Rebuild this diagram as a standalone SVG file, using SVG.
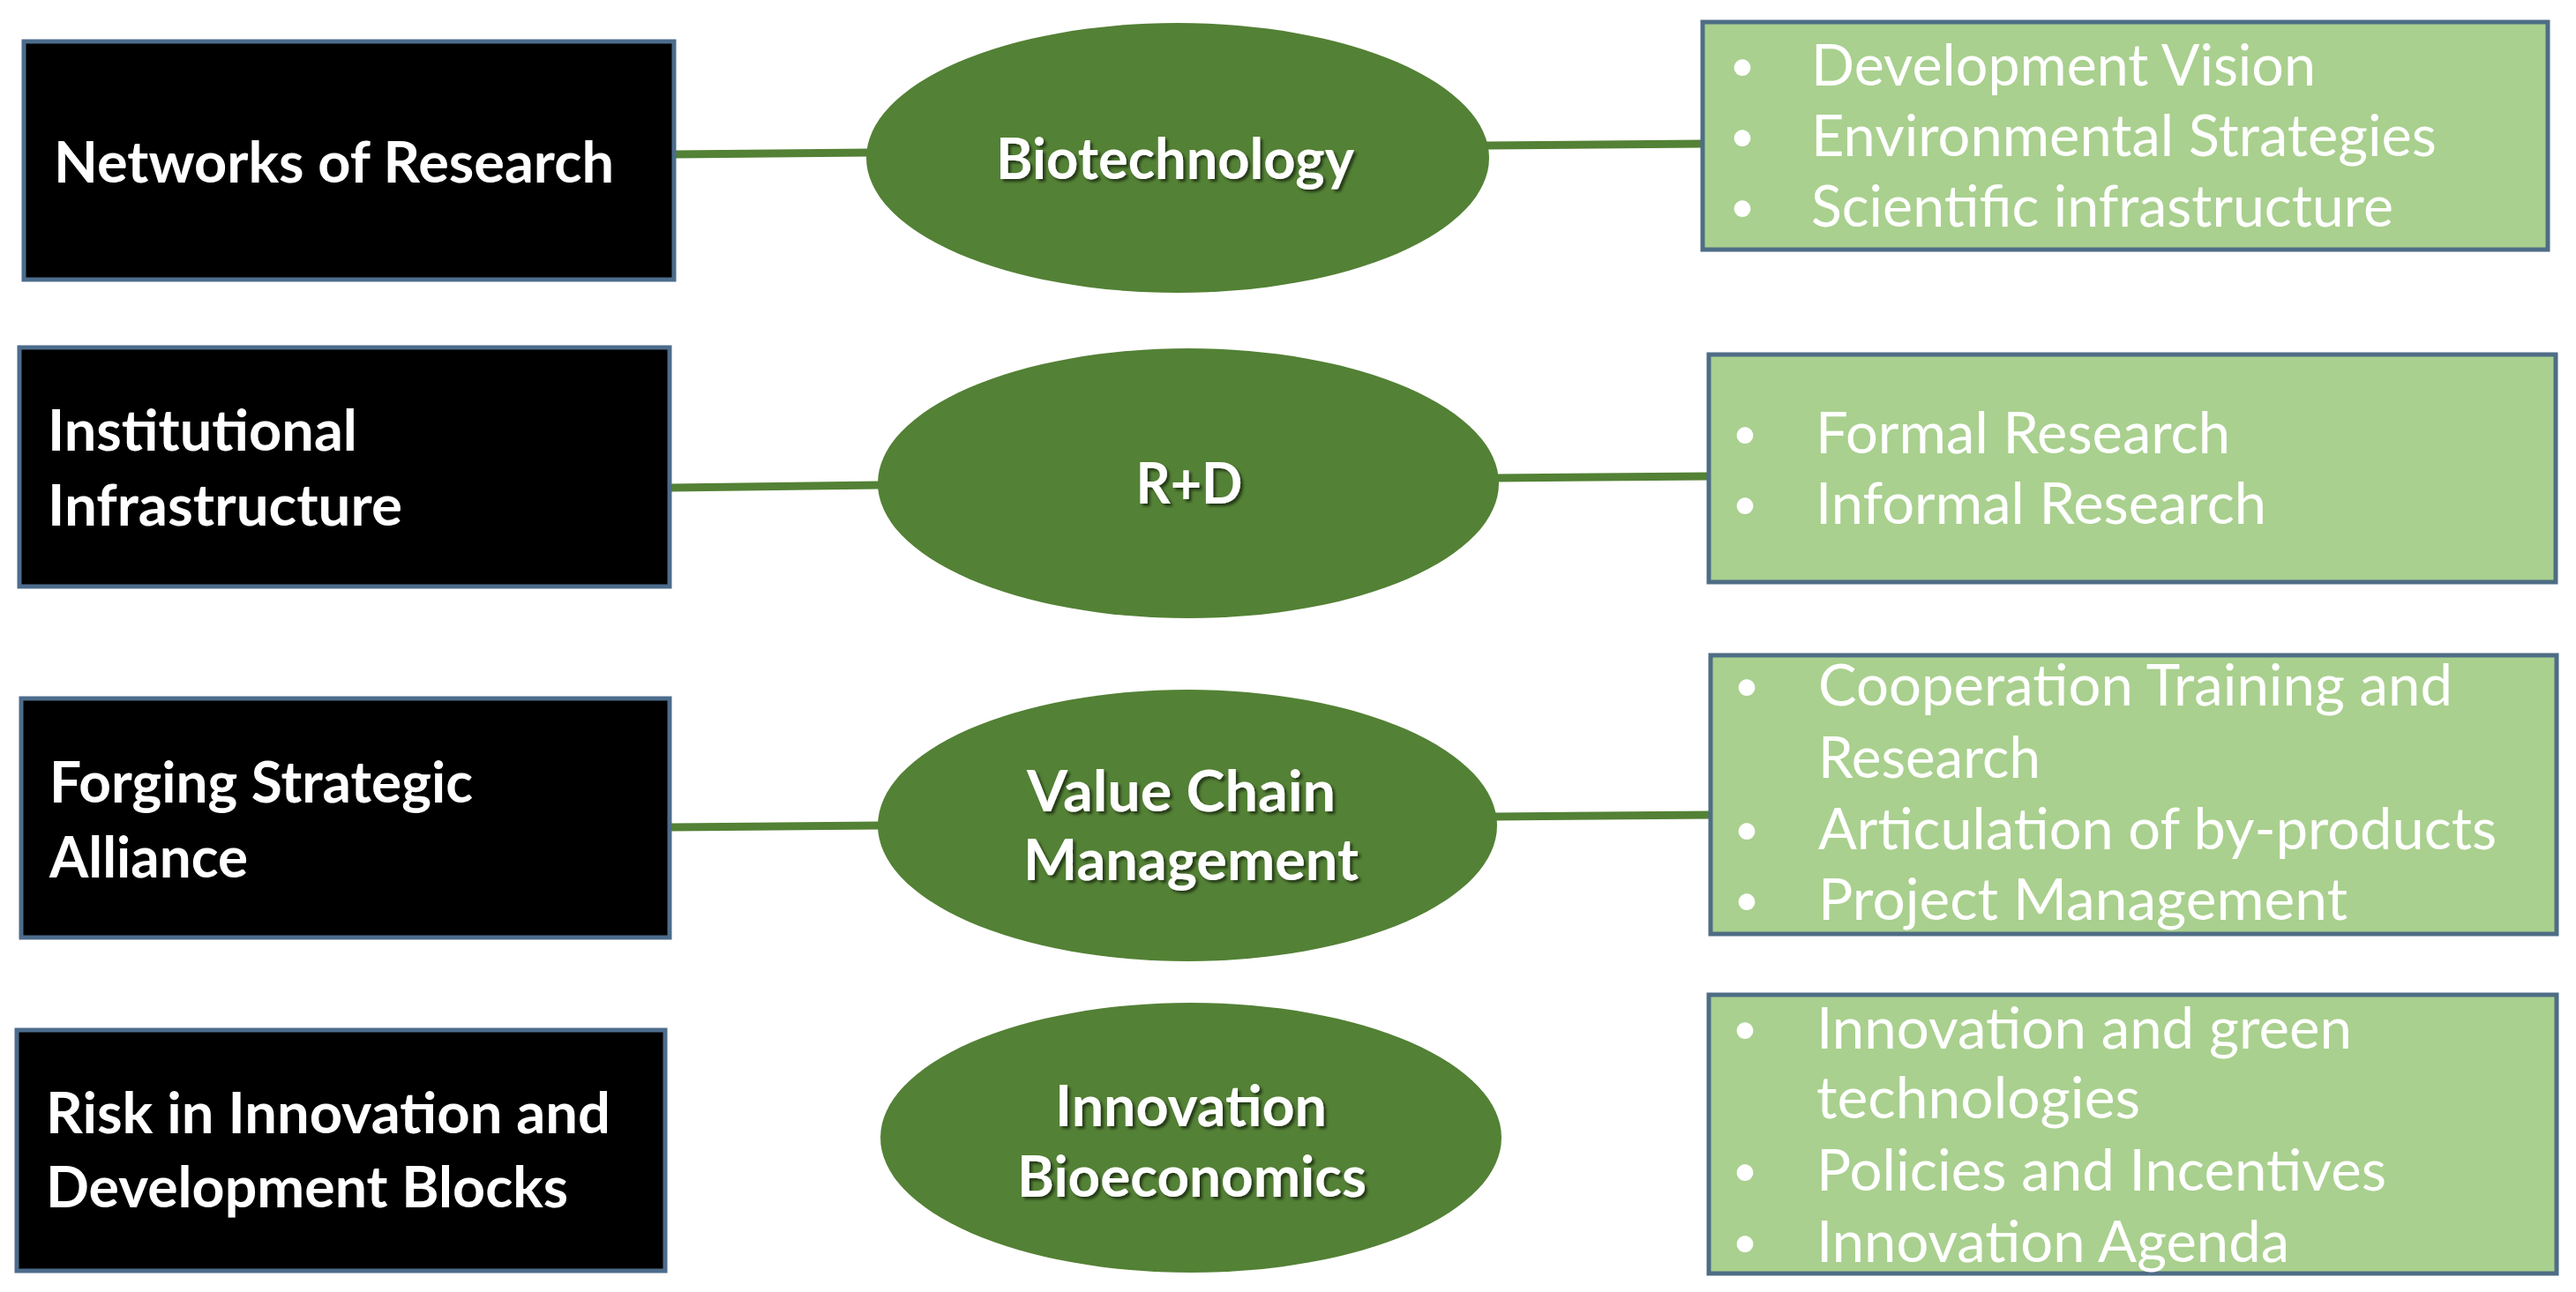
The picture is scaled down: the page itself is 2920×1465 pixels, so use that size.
<svg xmlns="http://www.w3.org/2000/svg" width="2920" height="1465" viewBox="0 0 2920 1465">
<defs>
<filter id="shadow" x="-10%" y="-20%" width="120%" height="150%">
<feDropShadow dx="3" dy="3" stdDeviation="1.5" flood-color="#000" flood-opacity="0.55"/>
</filter>
</defs>
<style>
.lbox{fill:#000;stroke:#4d6c8c;stroke-width:5}
.ell{fill:#538135}
.rbox{fill:#a9d08e;stroke:#4e6d85;stroke-width:5}
.conn{stroke:#538135;stroke-width:9;fill:none}
.lt{font-family:Lato,"Liberation Sans",sans-serif;font-weight:bold;font-size:65px;fill:#fff}
.et{font-family:Lato,"Liberation Sans",sans-serif;font-weight:bold;font-size:65px;fill:#fff;text-anchor:middle;filter:url(#shadow)}
.rt{font-family:Lato,"Liberation Sans",sans-serif;font-size:65px;fill:#fff}
.bu{font-family:Lato,"Liberation Sans",sans-serif;font-size:50px;fill:#fff;text-anchor:middle}
</style>
<rect width="2920" height="1465" fill="#fff"/>
<g id="connectors">
<line class="conn" x1="764" y1="175" x2="985" y2="173"/>
<line class="conn" x1="1685" y1="165" x2="1930" y2="163"/>
<line class="conn" x1="759" y1="553" x2="998" y2="550"/>
<line class="conn" x1="1696" y1="542" x2="1937" y2="540"/>
<line class="conn" x1="759" y1="938" x2="998" y2="936"/>
<line class="conn" x1="1693" y1="926" x2="1939" y2="924"/>
</g>
<g id="left-networks">
<rect class="lbox" x="27" y="47" width="737" height="270"/>
<text class="lt" x="61" y="207" textLength="635" lengthAdjust="spacingAndGlyphs">Networks of Research</text>
</g>
<g id="left-institutional">
<rect class="lbox" x="22" y="394" width="737" height="271"/>
<text class="lt" x="54" y="511" textLength="351" lengthAdjust="spacingAndGlyphs">Institutional</text>
<text class="lt" x="54" y="596" textLength="402" lengthAdjust="spacingAndGlyphs">Infrastructure</text>
</g>
<g id="left-forging">
<rect class="lbox" x="24" y="792" width="735" height="271"/>
<text class="lt" x="56" y="910" textLength="480" lengthAdjust="spacingAndGlyphs">Forging Strategic</text>
<text class="lt" x="56" y="995" textLength="225" lengthAdjust="spacingAndGlyphs">Alliance</text>
</g>
<g id="left-risk">
<rect class="lbox" x="19" y="1168" width="735" height="273"/>
<text class="lt" x="52" y="1285" textLength="640" lengthAdjust="spacingAndGlyphs">Risk in Innovation and</text>
<text class="lt" x="52" y="1369" textLength="592" lengthAdjust="spacingAndGlyphs">Development Blocks</text>
</g>
<g id="ell-biotechnology">
<ellipse class="ell" cx="1335" cy="179" rx="353" ry="153"/>
<text class="et" x="1332" y="203" textLength="406" lengthAdjust="spacingAndGlyphs">Biotechnology</text>
</g>
<g id="ell-rd">
<ellipse class="ell" cx="1347" cy="548" rx="352" ry="153"/>
<text class="et" x="1348" y="571" textLength="121" lengthAdjust="spacingAndGlyphs">R+D</text>
</g>
<g id="ell-value">
<ellipse class="ell" cx="1346" cy="936" rx="351" ry="154"/>
<text class="et" x="1339" y="920" textLength="350" lengthAdjust="spacingAndGlyphs">Value Chain</text>
<text class="et" x="1350" y="998" textLength="380" lengthAdjust="spacingAndGlyphs">Management</text>
</g>
<g id="ell-innovation">
<ellipse class="ell" cx="1350" cy="1290" rx="352" ry="153"/>
<text class="et" x="1350" y="1277" textLength="308" lengthAdjust="spacingAndGlyphs">Innovation</text>
<text class="et" x="1351" y="1357" textLength="396" lengthAdjust="spacingAndGlyphs">Bioeconomics</text>
</g>
<g id="right-1">
<rect class="rbox" x="1930" y="25" width="958" height="258"/>
<text class="bu" x="1975" y="92">•</text>
<text class="bu" x="1975" y="172">•</text>
<text class="bu" x="1975" y="252">•</text>
<text class="rt" x="2053" y="97" textLength="572" lengthAdjust="spacingAndGlyphs">Development Vision</text>
<text class="rt" x="2053" y="177" textLength="709" lengthAdjust="spacingAndGlyphs">Environmental Strategies</text>
<text class="rt" x="2053" y="257" textLength="660" lengthAdjust="spacingAndGlyphs">Scientific infrastructure</text>
</g>
<g id="right-2">
<rect class="rbox" x="1937" y="402" width="960" height="258"/>
<text class="bu" x="1978" y="509">•</text>
<text class="bu" x="1978" y="589">•</text>
<text class="rt" x="2058" y="514" textLength="470" lengthAdjust="spacingAndGlyphs">Formal Research</text>
<text class="rt" x="2058" y="594" textLength="511" lengthAdjust="spacingAndGlyphs">Informal Research</text>
</g>
<g id="right-3">
<rect class="rbox" x="1939" y="743" width="959" height="316"/>
<text class="bu" x="1980" y="795">•</text>
<text class="bu" x="1980" y="958">•</text>
<text class="bu" x="1980" y="1038">•</text>
<text class="rt" x="2061" y="800" textLength="719" lengthAdjust="spacingAndGlyphs">Cooperation Training and</text>
<text class="rt" x="2061" y="882" textLength="252" lengthAdjust="spacingAndGlyphs">Research</text>
<text class="rt" x="2061" y="963" textLength="769" lengthAdjust="spacingAndGlyphs">Articulation of by-products</text>
<text class="rt" x="2061" y="1043" textLength="600" lengthAdjust="spacingAndGlyphs">Project Management</text>
</g>
<g id="right-4">
<rect class="rbox" x="1937" y="1128" width="961" height="316"/>
<text class="bu" x="1978" y="1184">•</text>
<text class="bu" x="1978" y="1345">•</text>
<text class="bu" x="1978" y="1426">•</text>
<text class="rt" x="2059" y="1189" textLength="607" lengthAdjust="spacingAndGlyphs">Innovation and green</text>
<text class="rt" x="2059" y="1268" textLength="367" lengthAdjust="spacingAndGlyphs">technologies</text>
<text class="rt" x="2059" y="1350" textLength="646" lengthAdjust="spacingAndGlyphs">Policies and Incentives</text>
<text class="rt" x="2059" y="1431" textLength="536" lengthAdjust="spacingAndGlyphs">Innovation Agenda</text>
</g>
</svg>
